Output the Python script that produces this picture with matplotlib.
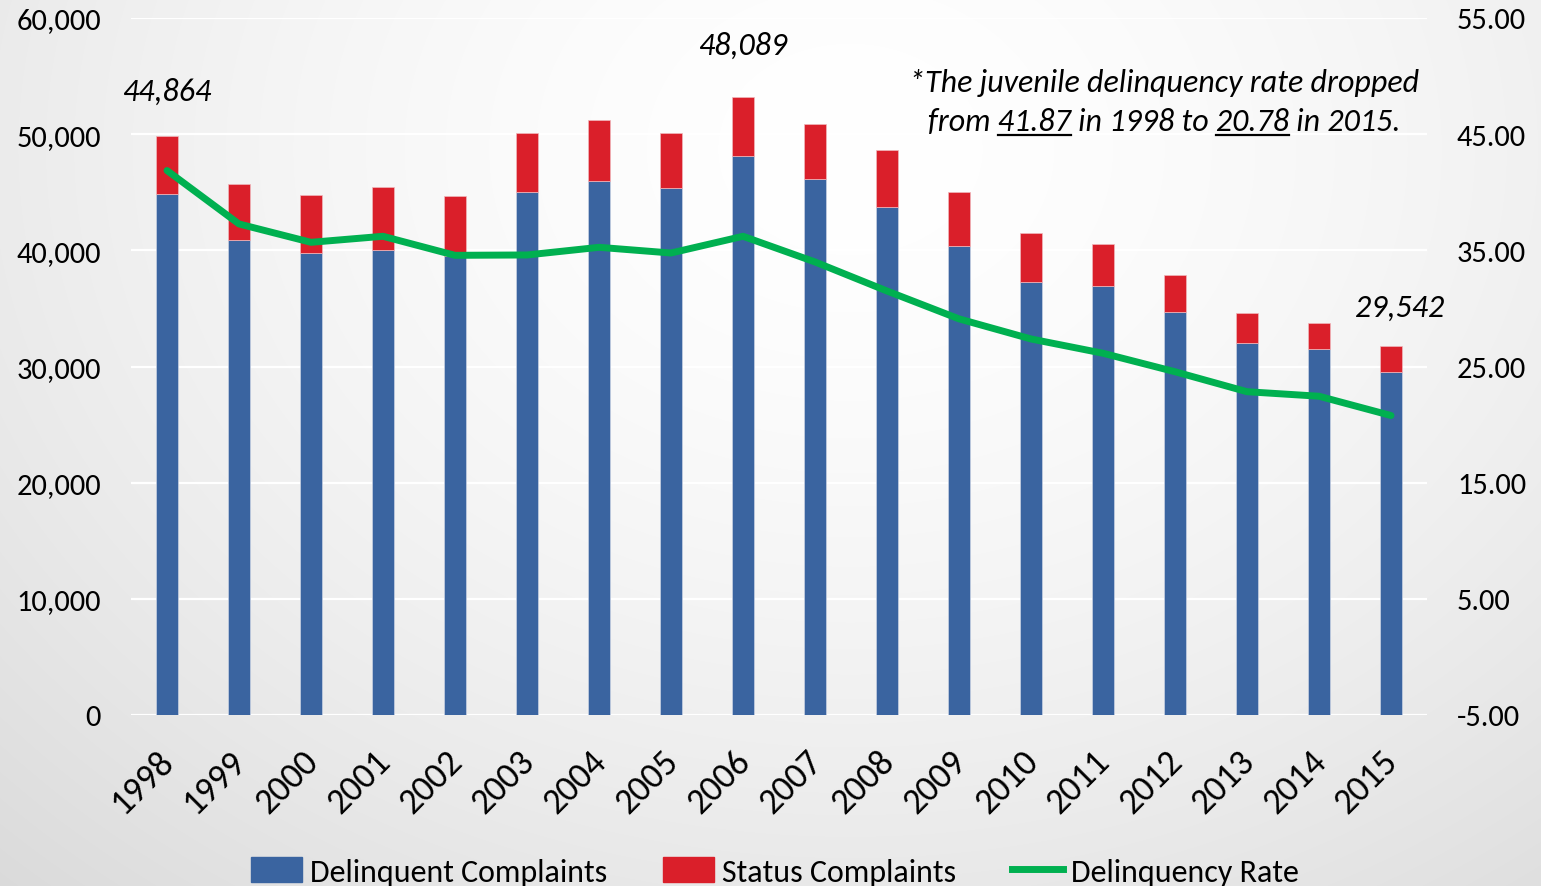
import numpy as np
import matplotlib
matplotlib.use("Agg")
import matplotlib.pyplot as plt
from matplotlib.patches import Patch
from matplotlib.lines import Line2D
from matplotlib.transforms import ScaledTranslation

# ---------------- data ----------------
years = [str(y) for y in range(1998, 2016)]
delinquent = [44864, 40860, 39800, 40030, 39540, 45000, 45940, 45330, 48089,
              46170, 43730, 40340, 37250, 36960, 34660, 32000, 31480, 29542]
status = [4936, 4850, 4990, 5450, 5110, 5100, 5250, 4740, 5081,
          4700, 4880, 4650, 4270, 3580, 3190, 2580, 2260, 2218]
rate = [41.87, 37.27, 35.69, 36.21, 34.57, 34.60, 35.26, 34.77, 36.21,
        34.00, 31.50, 29.10, 27.37, 26.14, 24.55, 22.83, 22.44, 20.78]
left_ticks = [0, 10000, 20000, 30000, 40000, 50000, 60000]
right_ticks = [-5, 5, 15, 25, 35, 45, 55]
callout_idx = [0, 8, 17]
note_line1 = "*The juvenile delinquency rate dropped"
note_parts = ["from ", "41.87", " in 1998 to ", "20.78", " in 2015."]
note_underlined = [1, 3]

# ---------------- style ----------------
BLUE = "#3A64A0"
RED = "#DA1F2A"
GREEN = "#00B050"
FONT = ["Carlito", "Lato", "DejaVu Sans"]
plt.rcParams["font.family"] = FONT
FS = 22
FS_X = 26
FS_NOTE = 23

W, H = 1541, 887
fig = plt.figure(figsize=(W / 100, H / 100), dpi=100)

# background gradient
bg = fig.add_axes([0, 0, 1, 1], zorder=-10)
yy, xx = np.mgrid[0:H, 0:W]
d = np.sqrt(((xx - 850) / 1000.0) ** 2 + ((yy - 150) / 800.0) ** 2)
g = 1 - 0.10 * np.clip(d, 0, 1.3) ** 1.6
bg.imshow(np.dstack([g, g, g]), extent=[0, 1, 0, 1], aspect="auto")
bg.axis("off")

L, R, T, B = 131, 1427, 19, 716
ax = fig.add_axes([L / W, 1 - B / H, (R - L) / W, (B - T) / H])
ax.patch.set_alpha(0)
x = np.arange(len(years))
bw = 0.315
ax.bar(x, delinquent, bw, color=BLUE, edgecolor="#c9d2e3", linewidth=0.5, zorder=3)
ax.bar(x, status, bw, bottom=delinquent, color=RED, edgecolor="#f0b8bc",
       linewidth=0.5, zorder=3)
ax.set_xlim(-0.5, len(years) - 0.5)
ax.set_ylim(0, 60000)
ax.set_yticks(left_ticks)
ax.set_yticklabels([f"{v:,}" for v in left_ticks], fontsize=FS)
ax.set_xticks(x)
ax.set_xticklabels(years, fontsize=FS_X, rotation=45, ha="right",
                   rotation_mode="anchor")
ax.tick_params(axis="y", length=0, pad=21.6)
ax.tick_params(axis="x", length=0, pad=21)
shift = ScaledTranslation(-7 / 72, 0, fig.dpi_scale_trans)
for lbl in ax.get_xticklabels():
    lbl.set_transform(lbl.get_transform() + shift)
ax.grid(axis="y", color="white", linewidth=1.6, zorder=0)
for s in ax.spines.values():
    s.set_visible(False)

ax2 = ax.twinx()
ax2.plot(x, rate, color=GREEN, linewidth=5, solid_capstyle="round", zorder=5)
ax2.set_ylim(-5, 55)
ax2.set_yticks(right_ticks)
ax2.set_yticklabels([f"{v:.2f}" for v in right_ticks], fontsize=FS)
ax2.tick_params(axis="y", length=0, pad=21.6)
for s in ax2.spines.values():
    s.set_visible(False)

# callout labels
offsets = {0: (0, 33), 8: (0, 38), 17: (6, 28)}
for i in callout_idx:
    top = delinquent[i] + status[i]
    ax.annotate(f"{delinquent[i]:,}", (i, top), xytext=offsets[i],
                textcoords="offset points", ha="center", va="center",
                fontsize=FS_NOTE, style="italic", zorder=6)

# note text with underlines
renderer = fig.canvas.get_renderer()


def text_w(s):
    t = fig.text(0, 0, s, fontsize=FS_NOTE, style="italic")
    w = t.get_window_extent(renderer).width
    t.remove()
    return w


cx = 1164
fig.text(cx / W, 1 - 92 / H, note_line1, fontsize=FS_NOTE, style="italic",
         ha="center", va="baseline")
full2 = "".join(note_parts)
w_full = text_w(full2)
x0 = cx - w_full / 2
base2 = 131
fig.text(x0 / W, 1 - base2 / H, full2, fontsize=FS_NOTE, style="italic",
         ha="left", va="baseline")
for k in note_underlined:
    prefix = "".join(note_parts[:k])
    word = note_parts[k]
    end = text_w(prefix + word)
    start = end - text_w(word)
    uy = 1 - (base2 + 5) / H
    fig.add_artist(Line2D([(x0 + start) / W, (x0 + end) / W], [uy, uy],
                          color="black", linewidth=1.6,
                          transform=fig.transFigure))

# legend
handles = [Patch(color=BLUE), Patch(color=RED), Line2D([], [], color=GREEN, linewidth=5)]
labels = ["Delinquent Complaints", "Status Complaints", "Delinquency Rate"]
fig.legend(handles, labels, loc="lower center", bbox_to_anchor=(0.503, -0.032),
           ncol=3, frameon=False, fontsize=FS_NOTE, handlelength=1.6,
           handleheight=0.85, handletextpad=0.25, columnspacing=1.75)

fig.savefig("out.png", dpi=100)
